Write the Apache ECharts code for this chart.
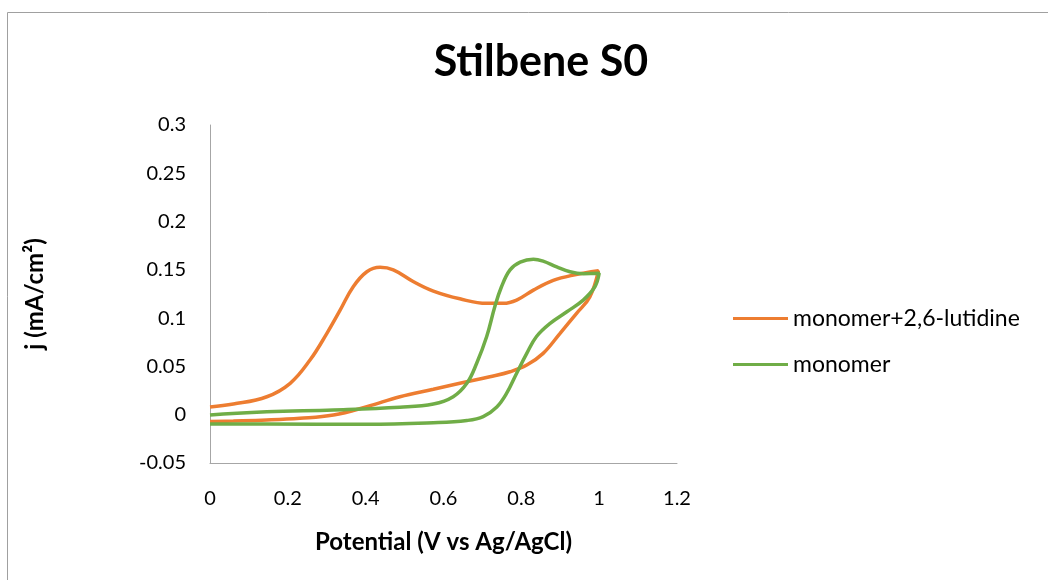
<!DOCTYPE html>
<html>
<head>
<meta charset="utf-8">
<script src="https://cdn.jsdelivr.net/npm/echarts@6/dist/echarts.min.js"></script>
<style>
  html, body { margin: 0; padding: 0; background: #fff; }
  #main { width: 1048px; height: 580px; }
</style>
</head>
<body>
<div id="main"></div>
<script>
const titleText = 'Stilbene S0';
const xName = 'Potential (V vs Ag/AgCl)';
const yName = 'j (mA/cm²)';
const seriesNames = ['monomer+2,6-lutidine', 'monomer'];

// [potential V, j mA/cm2] in scan order
const lutidineData = [
  [0.0, 0.008], [0.06, 0.011], [0.146, 0.0186], [0.206, 0.0325], [0.257, 0.0566],
  [0.30, 0.084], [0.334, 0.108], [0.368, 0.1325], [0.403, 0.148], [0.437, 0.1526],
  [0.471, 0.150], [0.522, 0.138], [0.574, 0.128], [0.642, 0.120], [0.711, 0.1153],
  [0.754, 0.1153], [0.788, 0.1187], [0.831, 0.129], [0.882, 0.139], [0.934, 0.1446],
  [0.998, 0.149],
  [0.976, 0.122], [0.942, 0.105], [0.899, 0.084], [0.856, 0.0635], [0.814, 0.0514],
  [0.771, 0.0445], [0.719, 0.0393], [0.642, 0.0325], [0.574, 0.0263], [0.488, 0.0186],
  [0.403, 0.0083], [0.317, -0.0003], [0.231, -0.0037], [0.146, -0.0055], [0.06, -0.0065],
  [0.0, -0.007]
];

const monomerData = [
  [0.0, -0.0096], [0.146, -0.0096], [0.403, -0.01], [0.574, -0.0083], [0.66, -0.006],
  [0.702, -0.002], [0.737, 0.008], [0.762, 0.022], [0.788, 0.043], [0.814, 0.0635],
  [0.839, 0.081], [0.874, 0.0946], [0.917, 0.1066], [0.959, 0.1187], [0.989, 0.1325],
  [1.0, 0.1464],
  [0.959, 0.146], [0.925, 0.148], [0.891, 0.153], [0.856, 0.159], [0.831, 0.161],
  [0.797, 0.158], [0.771, 0.150], [0.749, 0.1325], [0.732, 0.112], [0.711, 0.081],
  [0.685, 0.053], [0.66, 0.0325], [0.625, 0.0186], [0.574, 0.011], [0.488, 0.0077],
  [0.317, 0.0049], [0.146, 0.0031], [0.0, -0.0003]
];

const font = 'Lato, "Open Sans", sans-serif';
const chart = echarts.init(document.getElementById('main'));

chart.setOption({
  backgroundColor: '#fff',
  animation: false,
  graphic: [{
    type: 'rect',
    shape: { x: 7.5, y: 12.5, width: 1100, height: 700 },
    style: { fill: 'none', stroke: '#a0a0a0', lineWidth: 1 },
    silent: true
  }],
  title: {
    text: titleText,
    left: 536, top: 36, textAlign: 'center',
    textStyle: { fontFamily: font, fontSize: 43, fontWeight: 'bold', color: '#000' }
  },
  legend: {
    orient: 'vertical',
    left: 728, top: 302,
    itemWidth: 55, itemHeight: 3, itemGap: 23,
    icon: 'rect',
    textStyle: { fontFamily: font, fontSize: 23, color: '#000' },
    data: seriesNames
  },
  grid: { left: 210, right: 371, top: 125, bottom: 117 },
  xAxis: {
    type: 'value', min: 0, max: 1.2, interval: 0.2,
    name: xName, nameLocation: 'middle', nameGap: 67,
    nameTextStyle: { fontFamily: font, fontSize: 24, fontWeight: 'bold', color: '#000' },
    axisLine: { show: true, onZero: false, lineStyle: { color: '#a6a6a6', width: 1 } },
    axisTick: { show: false },
    splitLine: { show: false },
    axisLabel: { fontFamily: font, fontSize: 20, color: '#000', margin: 26,
      formatter: v => String(+v.toFixed(2)) }
  },
  yAxis: {
    type: 'value', min: -0.05, max: 0.3, interval: 0.05,
    name: yName, nameLocation: 'middle', nameGap: 163, nameRotate: 90,
    nameTextStyle: { fontFamily: font, fontSize: 24, fontWeight: 'bold', color: '#000' },
    axisLine: { show: true, lineStyle: { color: '#a6a6a6', width: 1 } },
    axisTick: { show: false },
    splitLine: { show: false },
    axisLabel: { fontFamily: font, fontSize: 20, color: '#000', margin: 24,
      formatter: v => String(+v.toFixed(2)) }
  },
  series: [
    {
      name: seriesNames[0], type: 'line', data: lutidineData,
      smooth: 0.4, showSymbol: false, symbol: 'none',
      lineStyle: { color: '#ED7D31', width: 3.5 }, itemStyle: { color: '#ED7D31' }
    },
    {
      name: seriesNames[1], type: 'line', data: monomerData,
      smooth: 0.4, showSymbol: false, symbol: 'none',
      lineStyle: { color: '#70AD47', width: 3.5 }, itemStyle: { color: '#70AD47' }
    }
  ]
});
</script>
</body>
</html>
